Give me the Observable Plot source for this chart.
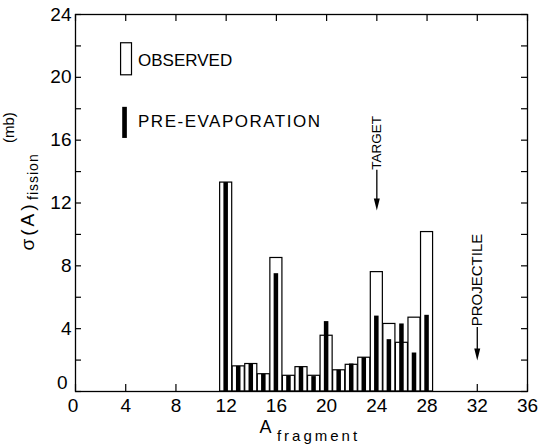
<!DOCTYPE html>
<html><head><meta charset="utf-8">
<script src="https://cdn.jsdelivr.net/npm/d3@7"></script>
<script src="https://cdn.jsdelivr.net/npm/@observablehq/plot@0.6"></script>
<style>html,body{margin:0;padding:0;background:#fff} svg{display:block}</style>
</head><body><div id="chart"></div>
<script>
// ---- data ----
const fragmentA      = [12, 13, 14, 15, 16, 17, 18, 19, 20, 21, 22, 23, 24, 25, 26, 27, 28];
const observed       = [13.3, 1.6, 1.75, 1.1, 8.5, 1.0, 1.55, 1.0, 3.55, 1.35, 1.7, 2.15, 7.6, 4.3, 3.1, 4.7, 10.15];
const preEvaporation = [13.3, 1.6, 1.75, 1.1, 7.5, 1.0, 1.55, 0.95, 4.45, 1.35, 1.75, 2.15, 4.8, 3.3, 4.3, 2.45, 4.85];
const xTicks      = [0, 4, 8, 12, 16, 20, 24, 28, 32, 36];
const xTickLabels = [4, 8, 12, 16, 20, 24, 28, 32, 36];
const yTicks      = [0, 2, 4, 6, 8, 10, 12, 14, 16, 18, 20, 22, 24];
const yTickLabels = [4, 8, 12, 16, 20, 24];
const seriesNames = ["OBSERVED", "PRE-EVAPORATION"];
const markers     = [{name: "TARGET", A: 24}, {name: "PROJECTILE", A: 32}];

const bars = fragmentA.map((a, i) => ({A: a, obs: observed[i], pre: preEvaporation[i]}));

const W = 544, H = 448, mL = 75, mR = 17, mT = 14, mB = 57;
const fw = W - mL - mR, fh = H - mT - mB;
const font = "'Liberation Sans', Arial, Helvetica, sans-serif";
const arrowHead = {draw(ctx) { ctx.moveTo(0, 0); ctx.lineTo(-3, -12); ctx.lineTo(3, -12); ctx.closePath(); }};

const chart = Plot.plot({
  width: W, height: H,
  marginLeft: mL, marginRight: mR, marginTop: mT, marginBottom: mB,
  style: {fontFamily: font, background: "#fff", color: "#000"},
  x: {domain: [0, 36], label: null},
  y: {domain: [0, 24], label: null},
  marks: [
    // bars
    Plot.rect(bars, {x1: d => d.A - 0.48, x2: d => d.A + 0.48, y1: 0, y2: "obs", fill: "white", stroke: "black", strokeWidth: 1.2}),
    Plot.rect(bars, {x1: d => d.A - 0.18, x2: d => d.A + 0.18, y1: 0, y2: "pre", fill: "black"}),
    // inward ticks
    Plot.tickX(xTicks, {x: d => d, insetTop: fh - 7, stroke: "black", strokeWidth: 1.2}),
    Plot.tickX(xTicks, {x: d => d, insetBottom: fh - 7, stroke: "black", strokeWidth: 1.2}),
    Plot.tickY(yTicks, {y: d => d, insetRight: fw - 6, stroke: "black", strokeWidth: 1.2}),
    Plot.tickY(yTicks, {y: d => d, insetLeft: fw - 6, stroke: "black", strokeWidth: 1.2}),
    // tick labels
    Plot.axisX(xTickLabels, {tickSize: 0, tickPadding: 7, fontSize: 19, label: null}),
    Plot.axisY(yTickLabels, {tickSize: 0, tickPadding: 4, fontSize: 19, label: null}),
    Plot.text([0], {x: 0, y: 0, text: d => String(d), textAnchor: "end", lineAnchor: "middle", dx: -8, dy: -9, fontSize: 19}),
    Plot.text([0], {x: 0, y: 0, text: d => String(d), textAnchor: "middle", lineAnchor: "top", dx: -2.5, dy: 7, fontSize: 19}),
    Plot.frame({stroke: "black", strokeWidth: 1.3}),
    // axis titles
    Plot.text(["σ(A)"], {text: d => d, frameAnchor: "left", dx: -42, dy: 47.5, rotate: -90, fontSize: 19, textAnchor: "start", lineAnchor: "bottom"}),
    Plot.text(["fission"], {text: d => d, frameAnchor: "left", dx: -38, dy: -3, rotate: -90, fontSize: 14, textAnchor: "start", lineAnchor: "bottom"}),
    Plot.text(["(mb)"], {text: d => d, frameAnchor: "left", dx: -62, dy: -60, rotate: -90, fontSize: 15, textAnchor: "start", lineAnchor: "bottom"}),
    Plot.text(["A"], {text: d => d, frameAnchor: "bottom", dx: -36, dy: 41, fontSize: 18, textAnchor: "middle", lineAnchor: "bottom"}),
    Plot.text(["fragment"], {text: d => d, frameAnchor: "bottom", dx: 17, dy: 49, fontSize: 15, textAnchor: "middle", lineAnchor: "bottom"}),
    // legend
    Plot.rect([seriesNames[0]], {x1: 3.63, x2: 4.5, y1: 20.13, y2: 22.17, fill: "white", stroke: "black", strokeWidth: 1.2}),
    Plot.rect([seriesNames[1]], {x1: 3.76, x2: 4.13, y1: 16.11, y2: 18.09, fill: "black"}),
    Plot.text([seriesNames[0]], {text: d => d, x: 4.98, y: 21.08, textAnchor: "start", lineAnchor: "middle", fontSize: 17}),
    Plot.text([seriesNames[1]], {text: d => d, x: 4.98, y: 17.2, textAnchor: "start", lineAnchor: "middle", fontSize: 17}),
    // TARGET / PROJECTILE markers
    Plot.text([markers[0]], {text: "name", x: "A", y: 15.83, rotate: -90, fontSize: 13.5, textAnchor: "middle", lineAnchor: "middle"}),
    Plot.ruleX([markers[0]], {x: "A", y1: 14.08, y2: 12.0, stroke: "black", strokeWidth: 1.3}),
    Plot.dot([markers[0]], {x: "A", y: 11.53, symbol: arrowHead, fill: "black", stroke: null}),
    Plot.text([markers[1]], {text: "name", x: "A", y: 7.1, rotate: -90, fontSize: 15, textAnchor: "middle", lineAnchor: "middle"}),
    Plot.ruleX([markers[1]], {x: "A", y1: 4.08, y2: 2.4, stroke: "black", strokeWidth: 1.3}),
    Plot.dot([markers[1]], {x: "A", y: 1.97, symbol: arrowHead, fill: "black", stroke: null})
  ]
});

document.getElementById("chart").appendChild(chart);

// letter spacing to mimic the lettering of the original
const spacing = {"fission": 1, "fragment": 3, "σ(A)": 3, "PRE-EVAPORATION": 1.5};
d3.select(chart).selectAll("text").each(function () {
  const t = this.textContent;
  if (spacing[t] != null) this.setAttribute("letter-spacing", spacing[t]);
});
</script>
</body></html>
